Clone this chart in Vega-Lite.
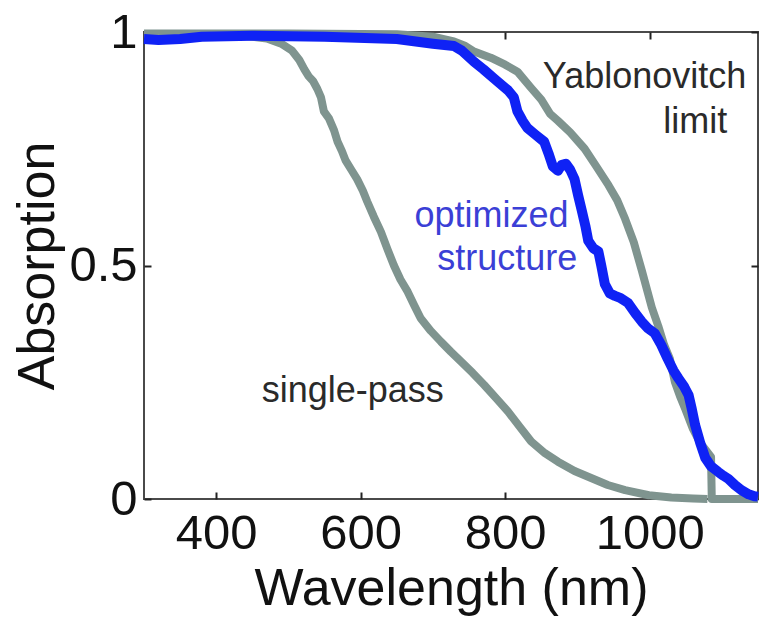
{
  "$schema": "https://vega.github.io/schema/vega-lite/v6.json",
  "width": 614,
  "height": 467,
  "autosize": {"type": "none"},
  "padding": {"left": 144, "top": 32, "right": 24, "bottom": 132},
  "background": "white",
  "view": {"stroke": "#4a4a4a", "strokeWidth": 2},
  "config": {
    "font": "Liberation Sans",
    "axis": {
      "grid": false,
      "domain": false,
      "tickColor": "#222",
      "tickWidth": 2,
      "tickSize": -7,
      "labelFont": "Liberation Sans",
      "labelFontSize": 49,
      "labelColor": "#111",
      "titleFont": "Liberation Sans",
      "titleFontSize": 52,
      "titleFontWeight": "normal",
      "titleColor": "#111"
    }
  },
  "datasets": {
    "curves": [
      {"series": "single-pass", "wl": 300, "a": 0.995},
      {"series": "single-pass", "wl": 400, "a": 0.995},
      {"series": "single-pass", "wl": 440, "a": 0.992},
      {"series": "single-pass", "wl": 470, "a": 0.986},
      {"series": "single-pass", "wl": 490, "a": 0.975},
      {"series": "single-pass", "wl": 505, "a": 0.96},
      {"series": "single-pass", "wl": 515, "a": 0.94},
      {"series": "single-pass", "wl": 522, "a": 0.92},
      {"series": "single-pass", "wl": 528, "a": 0.905},
      {"series": "single-pass", "wl": 534, "a": 0.895},
      {"series": "single-pass", "wl": 540, "a": 0.878},
      {"series": "single-pass", "wl": 545, "a": 0.86},
      {"series": "single-pass", "wl": 549, "a": 0.83},
      {"series": "single-pass", "wl": 556, "a": 0.815},
      {"series": "single-pass", "wl": 563, "a": 0.79},
      {"series": "single-pass", "wl": 568, "a": 0.765},
      {"series": "single-pass", "wl": 574, "a": 0.745},
      {"series": "single-pass", "wl": 579, "a": 0.725},
      {"series": "single-pass", "wl": 587, "a": 0.705},
      {"series": "single-pass", "wl": 595, "a": 0.685},
      {"series": "single-pass", "wl": 603, "a": 0.66},
      {"series": "single-pass", "wl": 609, "a": 0.637},
      {"series": "single-pass", "wl": 618, "a": 0.605},
      {"series": "single-pass", "wl": 628, "a": 0.572},
      {"series": "single-pass", "wl": 637, "a": 0.535},
      {"series": "single-pass", "wl": 646, "a": 0.5},
      {"series": "single-pass", "wl": 655, "a": 0.47},
      {"series": "single-pass", "wl": 665, "a": 0.444},
      {"series": "single-pass", "wl": 674, "a": 0.415},
      {"series": "single-pass", "wl": 683, "a": 0.387},
      {"series": "single-pass", "wl": 697, "a": 0.36},
      {"series": "single-pass", "wl": 711, "a": 0.337},
      {"series": "single-pass", "wl": 725, "a": 0.315},
      {"series": "single-pass", "wl": 739, "a": 0.294},
      {"series": "single-pass", "wl": 755, "a": 0.27},
      {"series": "single-pass", "wl": 771, "a": 0.244},
      {"series": "single-pass", "wl": 788, "a": 0.215},
      {"series": "single-pass", "wl": 804, "a": 0.187},
      {"series": "single-pass", "wl": 820, "a": 0.155},
      {"series": "single-pass", "wl": 836, "a": 0.123},
      {"series": "single-pass", "wl": 855, "a": 0.098},
      {"series": "single-pass", "wl": 873, "a": 0.08},
      {"series": "single-pass", "wl": 896, "a": 0.06},
      {"series": "single-pass", "wl": 919, "a": 0.045},
      {"series": "single-pass", "wl": 942, "a": 0.03},
      {"series": "single-pass", "wl": 966, "a": 0.019},
      {"series": "single-pass", "wl": 999, "a": 0.008},
      {"series": "single-pass", "wl": 1030, "a": 0.003},
      {"series": "single-pass", "wl": 1060, "a": 0.001},
      {"series": "single-pass", "wl": 1080, "a": 0},
      {"series": "yablonovitch", "wl": 300, "a": 0.997},
      {"series": "yablonovitch", "wl": 500, "a": 0.997},
      {"series": "yablonovitch", "wl": 650, "a": 0.995},
      {"series": "yablonovitch", "wl": 700, "a": 0.99},
      {"series": "yablonovitch", "wl": 729, "a": 0.98},
      {"series": "yablonovitch", "wl": 745, "a": 0.97},
      {"series": "yablonovitch", "wl": 757, "a": 0.958},
      {"series": "yablonovitch", "wl": 780, "a": 0.945},
      {"series": "yablonovitch", "wl": 800, "a": 0.93},
      {"series": "yablonovitch", "wl": 817, "a": 0.915},
      {"series": "yablonovitch", "wl": 836, "a": 0.88},
      {"series": "yablonovitch", "wl": 850, "a": 0.855},
      {"series": "yablonovitch", "wl": 862, "a": 0.825},
      {"series": "yablonovitch", "wl": 873, "a": 0.81},
      {"series": "yablonovitch", "wl": 890, "a": 0.785},
      {"series": "yablonovitch", "wl": 910, "a": 0.75},
      {"series": "yablonovitch", "wl": 925, "a": 0.715},
      {"series": "yablonovitch", "wl": 943, "a": 0.672},
      {"series": "yablonovitch", "wl": 955, "a": 0.64},
      {"series": "yablonovitch", "wl": 966, "a": 0.6},
      {"series": "yablonovitch", "wl": 978, "a": 0.55},
      {"series": "yablonovitch", "wl": 989, "a": 0.49},
      {"series": "yablonovitch", "wl": 1003, "a": 0.41},
      {"series": "yablonovitch", "wl": 1012, "a": 0.37},
      {"series": "yablonovitch", "wl": 1020, "a": 0.33},
      {"series": "yablonovitch", "wl": 1028, "a": 0.3},
      {"series": "yablonovitch", "wl": 1035, "a": 0.25},
      {"series": "yablonovitch", "wl": 1042, "a": 0.22},
      {"series": "yablonovitch", "wl": 1050, "a": 0.19},
      {"series": "yablonovitch", "wl": 1060, "a": 0.15},
      {"series": "yablonovitch", "wl": 1070, "a": 0.12},
      {"series": "yablonovitch", "wl": 1080, "a": 0.1},
      {"series": "yablonovitch", "wl": 1085, "a": 0.09},
      {"series": "yablonovitch", "wl": 1086, "a": 0.0},
      {"series": "yablonovitch", "wl": 1150, "a": 0.0},
      {"series": "optimized", "wl": 300, "a": 0.985},
      {"series": "optimized", "wl": 320, "a": 0.983},
      {"series": "optimized", "wl": 350, "a": 0.985},
      {"series": "optimized", "wl": 380, "a": 0.99},
      {"series": "optimized", "wl": 450, "a": 0.992},
      {"series": "optimized", "wl": 550, "a": 0.99},
      {"series": "optimized", "wl": 650, "a": 0.985},
      {"series": "optimized", "wl": 700, "a": 0.975},
      {"series": "optimized", "wl": 729, "a": 0.97},
      {"series": "optimized", "wl": 740, "a": 0.96},
      {"series": "optimized", "wl": 757, "a": 0.936},
      {"series": "optimized", "wl": 770, "a": 0.92},
      {"series": "optimized", "wl": 785, "a": 0.9},
      {"series": "optimized", "wl": 804, "a": 0.875},
      {"series": "optimized", "wl": 812, "a": 0.86},
      {"series": "optimized", "wl": 817, "a": 0.83},
      {"series": "optimized", "wl": 824, "a": 0.81},
      {"series": "optimized", "wl": 831, "a": 0.794},
      {"series": "optimized", "wl": 842, "a": 0.78},
      {"series": "optimized", "wl": 854, "a": 0.765},
      {"series": "optimized", "wl": 860, "a": 0.74},
      {"series": "optimized", "wl": 866, "a": 0.712},
      {"series": "optimized", "wl": 873, "a": 0.703},
      {"series": "optimized", "wl": 878, "a": 0.715},
      {"series": "optimized", "wl": 884, "a": 0.718},
      {"series": "optimized", "wl": 890, "a": 0.705},
      {"series": "optimized", "wl": 896, "a": 0.685},
      {"series": "optimized", "wl": 901, "a": 0.65},
      {"series": "optimized", "wl": 906, "a": 0.618},
      {"series": "optimized", "wl": 911, "a": 0.585},
      {"series": "optimized", "wl": 915, "a": 0.553},
      {"series": "optimized", "wl": 922, "a": 0.537},
      {"series": "optimized", "wl": 929, "a": 0.53},
      {"series": "optimized", "wl": 933, "a": 0.5},
      {"series": "optimized", "wl": 938, "a": 0.46},
      {"series": "optimized", "wl": 945, "a": 0.44},
      {"series": "optimized", "wl": 952, "a": 0.435},
      {"series": "optimized", "wl": 960, "a": 0.43},
      {"series": "optimized", "wl": 970, "a": 0.42},
      {"series": "optimized", "wl": 980, "a": 0.398},
      {"series": "optimized", "wl": 989, "a": 0.38},
      {"series": "optimized", "wl": 998, "a": 0.365},
      {"series": "optimized", "wl": 1007, "a": 0.355},
      {"series": "optimized", "wl": 1016, "a": 0.33},
      {"series": "optimized", "wl": 1025, "a": 0.3},
      {"series": "optimized", "wl": 1033, "a": 0.275},
      {"series": "optimized", "wl": 1040, "a": 0.258},
      {"series": "optimized", "wl": 1048, "a": 0.24},
      {"series": "optimized", "wl": 1054, "a": 0.222},
      {"series": "optimized", "wl": 1058, "a": 0.195},
      {"series": "optimized", "wl": 1063, "a": 0.158},
      {"series": "optimized", "wl": 1070, "a": 0.12},
      {"series": "optimized", "wl": 1077, "a": 0.088},
      {"series": "optimized", "wl": 1085, "a": 0.07},
      {"series": "optimized", "wl": 1095, "a": 0.058},
      {"series": "optimized", "wl": 1102, "a": 0.05},
      {"series": "optimized", "wl": 1109, "a": 0.043},
      {"series": "optimized", "wl": 1118, "a": 0.03},
      {"series": "optimized", "wl": 1127, "a": 0.019},
      {"series": "optimized", "wl": 1137, "a": 0.01},
      {"series": "optimized", "wl": 1145, "a": 0.006},
      {"series": "optimized", "wl": 1150, "a": 0.005}
    ],
    "labels": [
      {"group": "dark", "label": "Yablonovitch", "wl": 993, "a": 0.88},
      {"group": "dark", "label": "limit", "wl": 1063, "a": 0.784},
      {"group": "dark", "label": "single-pass", "wl": 589, "a": 0.208},
      {"group": "blue", "label": "optimized", "wl": 781, "a": 0.583},
      {"group": "blue", "label": "structure", "wl": 803, "a": 0.49}
    ]
  },
  "resolve": {"axis": {"x": "independent", "y": "independent"}},
  "layer": [
    {
      "data": {"name": "curves"},
      "transform": [{"filter": "datum.series === 'single-pass'"}],
      "mark": {"type": "line", "color": "#7f948f", "strokeWidth": 8, "strokeJoin": "round", "strokeCap": "butt"},
      "encoding": {
        "x": {"field": "wl", "type": "quantitative", "scale": {"domain": [300, 1150], "nice": false, "zero": false},
              "axis": {"orient": "bottom", "values": [400, 600, 800, 1000], "format": "d", "title": "Wavelength (nm)", "labelPadding": 17, "titlePadding": 5}},
        "y": {"field": "a", "type": "quantitative", "scale": {"domain": [0, 1], "nice": false},
              "axis": {"orient": "left", "values": [0, 0.5, 1], "format": "~g", "title": "Absorption", "labelPadding": 14, "titlePadding": 4}}
      }
    },
    {
      "data": {"name": "curves"},
      "transform": [{"filter": "datum.series === 'yablonovitch'"}],
      "mark": {"type": "line", "color": "#7f948f", "strokeWidth": 8, "strokeJoin": "round", "strokeCap": "butt"},
      "encoding": {
        "x": {"field": "wl", "type": "quantitative", "axis": {"orient": "top", "values": [400, 600, 800, 1000], "labels": false, "title": null}},
        "y": {"field": "a", "type": "quantitative", "axis": {"orient": "right", "values": [0, 0.5, 1], "labels": false, "title": null}}
      }
    },
    {
      "data": {"name": "curves"},
      "transform": [{"filter": "datum.series === 'optimized'"}],
      "mark": {"type": "line", "color": "#0f22f5", "strokeWidth": 10, "strokeJoin": "round", "strokeCap": "butt"},
      "encoding": {
        "x": {"field": "wl", "type": "quantitative", "axis": null},
        "y": {"field": "a", "type": "quantitative", "axis": null}
      }
    },
    {
      "data": {"name": "labels"},
      "transform": [{"filter": "datum.group === 'dark'"}],
      "mark": {"type": "text", "font": "Liberation Sans", "fontSize": 36, "color": "#2a2a2a", "align": "center", "baseline": "alphabetic"},
      "encoding": {
        "x": {"field": "wl", "type": "quantitative", "axis": null},
        "y": {"field": "a", "type": "quantitative", "axis": null},
        "text": {"field": "label"}
      }
    },
    {
      "data": {"name": "labels"},
      "transform": [{"filter": "datum.group === 'blue'"}],
      "mark": {"type": "text", "font": "Liberation Sans", "fontSize": 36, "color": "#3b3fd6", "align": "center", "baseline": "alphabetic"},
      "encoding": {
        "x": {"field": "wl", "type": "quantitative", "axis": null},
        "y": {"field": "a", "type": "quantitative", "axis": null},
        "text": {"field": "label"}
      }
    }
  ]
}
